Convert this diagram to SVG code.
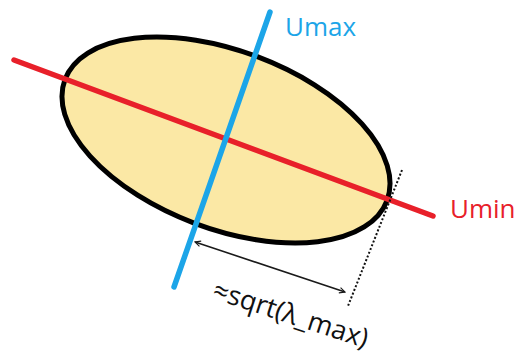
<svg xmlns="http://www.w3.org/2000/svg" width="520" height="358" viewBox="0 0 520 358">
<defs>
<marker id="chev" viewBox="0 0 10 10" refX="9" refY="5" markerWidth="7" markerHeight="7" orient="auto-start-reverse" markerUnits="userSpaceOnUse">
<path d="M1,1 L9,5 L1,9" fill="none" stroke="#1a1a1a" stroke-width="1.6"/>
</marker>
<style>
.lbl{font-family:"Open Sans","Noto Sans",sans-serif;font-size:26px}
</style>
</defs>
<rect width="520" height="358" fill="#ffffff"/>
<g id="ellipse">
<ellipse cx="226" cy="140" rx="172" ry="89" transform="rotate(20.6 226 140)" fill="#FBE8A5" stroke="#000" stroke-width="5"/>
</g>
<g id="connectors">
<line id="umin-axis" x1="14" y1="60" x2="433" y2="216" stroke="#E8202A" stroke-width="5.5" stroke-linecap="round"/>
<line id="umax-axis" x1="270" y1="12" x2="174" y2="287" stroke="#1CA5E8" stroke-width="5.5" stroke-linecap="round"/>
<line id="tangent" x1="402" y1="170" x2="348" y2="306" stroke="#111" stroke-width="2" stroke-dasharray="2 2"/>
<line id="dim" x1="195" y1="242" x2="345" y2="292" stroke="#1a1a1a" stroke-width="1.6" marker-start="url(#chev)" marker-end="url(#chev)"/>
</g>
<g id="label-umax"><text class="lbl" x="285" y="36" fill="#1CA5E8">Umax</text></g>
<g id="label-umin"><text class="lbl" x="450" y="218" fill="#E8202A">Umin</text></g>
<g id="label-dim"><text class="lbl" transform="translate(211 298) rotate(18)" fill="#111" style="font-size:27px">≈sqrt(λ_max)</text></g>
</svg>
